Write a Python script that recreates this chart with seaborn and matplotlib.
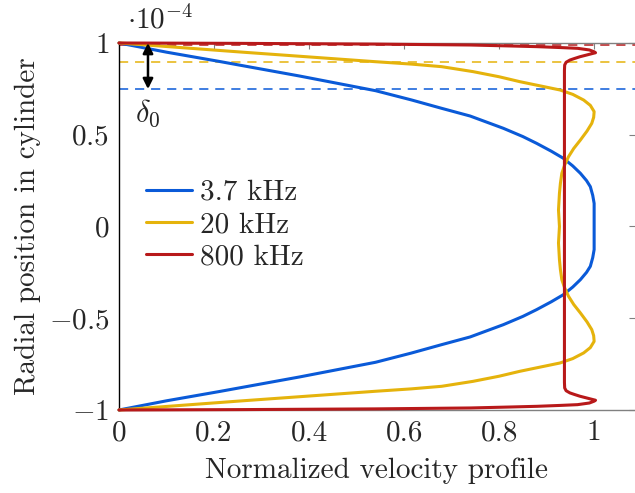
import matplotlib
matplotlib.use('Agg')
import pandas as pd
import matplotlib.pyplot as plt
import seaborn as sns

# values (radial position r, velocity u)
freqs = ['3.7 kHz', '20 kHz', '800 kHz']
colors = ['#0a5ad8', '#e5b30c', '#b8191a']

r_37 = [1.0, 0.95, 0.9, 0.82, 0.74, 0.69, 0.644, 0.602, 0.535, 0.49, 0.453, 0.41, 0.372, 0.33, 0.29,
        0.25, 0.217, 0.17, 0.126, 0.06, 0.0,
        -0.06, -0.126, -0.17, -0.217, -0.25, -0.29, -0.33, -0.372, -0.41, -0.453, -0.49, -0.535,
        -0.602, -0.644, -0.69, -0.74, -0.82, -0.9, -0.95, -1.0]
u_37 = [0.0, 0.10, 0.21, 0.38, 0.54, 0.615, 0.679, 0.739, 0.809, 0.85, 0.879, 0.91, 0.935, 0.955, 0.971,
        0.984, 0.992, 0.997, 1.0, 1.0, 1.0,
        1.0, 1.0, 0.997, 0.992, 0.984, 0.971, 0.955, 0.935, 0.91, 0.879, 0.85, 0.809,
        0.739, 0.679, 0.615, 0.54, 0.38, 0.21, 0.10, 0.0]

r_20 = [1.0, 0.95, 0.898, 0.885, 0.871, 0.844, 0.816, 0.789, 0.744, 0.72, 0.689, 0.66, 0.626, 0.595, 0.562,
        0.52, 0.471, 0.425, 0.38, 0.335, 0.29, 0.235, 0.181, 0.09, 0.0,
        -0.09, -0.181, -0.235, -0.29, -0.335, -0.38, -0.425, -0.471, -0.52, -0.562, -0.595, -0.626,
        -0.66, -0.689, -0.72, -0.744, -0.789, -0.816, -0.844, -0.871, -0.885, -0.898, -0.95, -1.0]
u_20 = [0.0, 0.26, 0.54, 0.615, 0.679, 0.745, 0.80, 0.844, 0.928, 0.955, 0.978, 0.992, 1.0, 0.999, 0.995,
        0.985, 0.971, 0.957, 0.946, 0.938, 0.932, 0.929, 0.927, 0.925, 0.927,
        0.925, 0.927, 0.929, 0.932, 0.938, 0.946, 0.957, 0.971, 0.985, 0.995, 0.999, 1.0,
        0.992, 0.978, 0.955, 0.928, 0.844, 0.80, 0.745, 0.679, 0.615, 0.54, 0.26, 0.0]

r_800 = [1.0, 0.998, 0.994, 0.989, 0.984, 0.98, 0.975, 0.971, 0.962, 0.952, 0.947, 0.935, 0.925,
         0.915, 0.907, 0.895, 0.88, 0.85, 0.0,
         -0.85, -0.88, -0.895, -0.907, -0.915, -0.925, -0.935, -0.947, -0.952, -0.962, -0.971,
         -0.975, -0.98, -0.984, -0.989, -0.994, -0.998, -1.0]
u_800 = [0.0, 0.25, 0.54, 0.74, 0.82, 0.88, 0.93, 0.965, 0.99, 1.0, 1.003, 0.985, 0.97,
         0.958, 0.949, 0.941, 0.938, 0.9375, 0.9375,
         0.9375, 0.938, 0.941, 0.949, 0.958, 0.97, 0.985, 1.003, 1.0, 0.99, 0.965,
         0.93, 0.88, 0.82, 0.74, 0.54, 0.25, 0.0]

delta_r = [0.749, 0.896, 0.989]   # boundary layer thickness lines

xticks = [0, 0.2, 0.4, 0.6, 0.8, 1.0]
xticklabels = ['0', '0.2', '0.4', '0.6', '0.8', '1']
yticks = [-1, -0.5, 0, 0.5, 1]
yticklabels = [r'$-1$', r'$-0.5$', r'$0$', r'$0.5$', r'$1$']

df = pd.concat([
    pd.DataFrame({'u': u_37, 'r': r_37, 'f': freqs[0]}),
    pd.DataFrame({'u': u_20, 'r': r_20, 'f': freqs[1]}),
    pd.DataFrame({'u': u_800, 'r': r_800, 'f': freqs[2]}),
], ignore_index=True)

sns.set_style('white')
plt.rcParams['font.family'] = 'cmr10'
plt.rcParams['mathtext.fontset'] = 'cm'
plt.rcParams['axes.formatter.use_mathtext'] = True
fs = 21

fig = plt.figure(figsize=(6.35, 4.93), dpi=100)
ax = fig.add_axes([0.1874, 0.1684, 0.8126, 0.7444])

for yv, c in zip(delta_r, colors):
    ax.axhline(yv, color=c, ls=(0, (6, 4.5)), lw=1.1, zorder=1)

sns.lineplot(data=df, x='u', y='r', hue='f', palette=colors, sort=False, estimator=None,
             lw=2.2, ax=ax, zorder=3)
for ln in ax.get_lines():
    ln.set_clip_on(False)
    ln.set_solid_joinstyle('round')

ax.annotate('', xy=(0.061, 0.749), xytext=(0.061, 1.0),
            arrowprops=dict(arrowstyle='<|-|>', color='black', lw=1.8,
                            shrinkA=0, shrinkB=0, mutation_scale=15))
ax.text(0.061, 0.615, r'$\delta_0$', ha='center', va='center', fontsize=22)
ax.text(0.0795, 1.063, r'$\cdot 10^{-4}$', transform=ax.transAxes,
        ha='center', va='center', fontsize=fs)

ax.set_xlim(0, 1.086)
ax.set_ylim(-1, 1)
ax.set_xticks(xticks)
ax.set_xticklabels(xticklabels)
ax.set_yticks(yticks)
ax.set_yticklabels(yticklabels)
ax.tick_params(direction='in', length=4, width=0.8, color='grey', top=True, right=True,
               labelsize=fs, pad=7)
ax.set_xlabel('Normalized velocity profile', fontsize=fs, labelpad=8)
ax.set_ylabel('Radial position in cylinder', fontsize=fs, labelpad=6)

ax.spines['right'].set_visible(False)
ax.spines['left'].set_color('black')
ax.spines['top'].set_color('grey')
ax.spines['bottom'].set_color('grey')
for s in ax.spines.values():
    s.set_linewidth(1.0)

ax.legend(loc='upper left', bbox_to_anchor=(0.025, 0.668), frameon=False, fontsize=fs,
          borderpad=0, handlelength=1.55, handletextpad=0.3, labelspacing=0.2)

fig.savefig('out.png', dpi=100)
